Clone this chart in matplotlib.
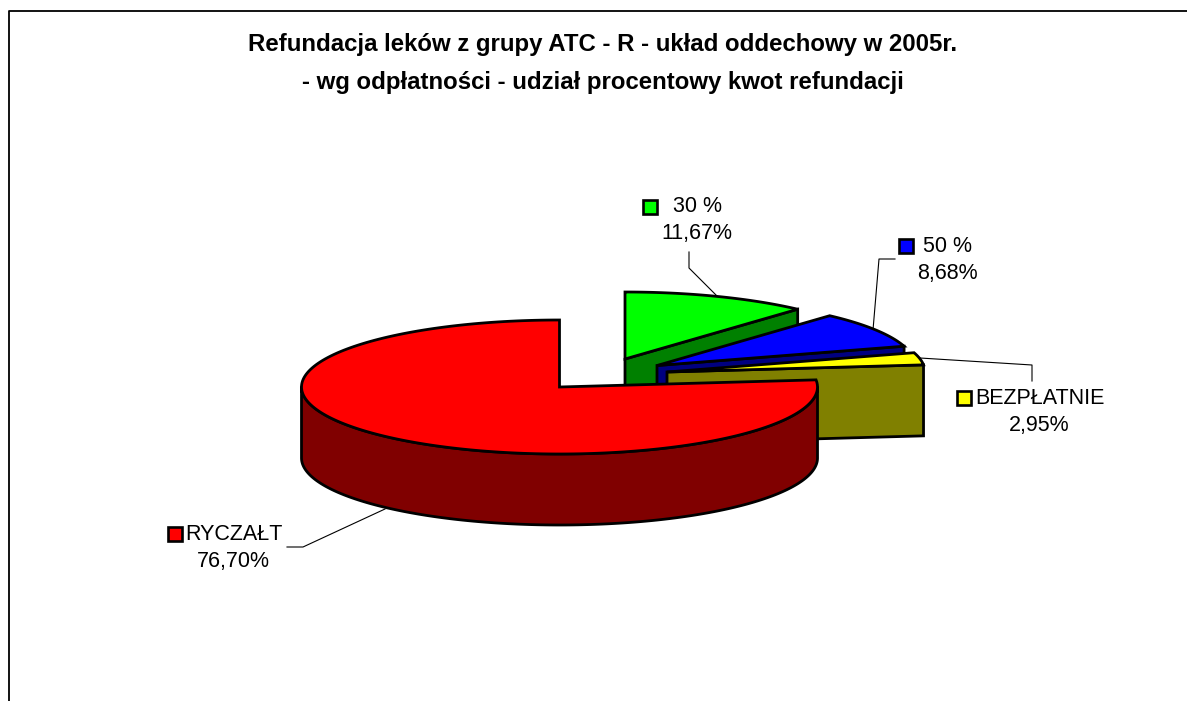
import numpy as np
import matplotlib
matplotlib.use("Agg")
import matplotlib.pyplot as plt
from matplotlib.patches import Polygon

plt.rcParams['font.family'] = ['Liberation Sans', 'DejaVu Sans']

title = "Refundacja leków z grupy ATC - R - układ oddechowy w 2005r.\n- wg odpłatności - udział procentowy kwot refundacji"
nazwy = ["RYCZAŁT", "BEZPŁATNIE", "50 %", "30 %"]
udzialy = [76.70, 2.95, 8.68, 11.67]
etykiety = ["76,70%", "2,95%", "8,68%", "11,67%"]

kolory = ["#ff0000", "#ffff00", "#0000ff", "#00ff00"]
ciemne = ["#800000", "#808000", "#000080", "#008000"]
# wierzcholki wycinkow w pikselach
srodki = [(559.5, 387), (667, 372), (657, 365.5), (625, 359)]
RX = 258
RY = 67
DEPTH = 71
LW = 2.0

fig = plt.figure(figsize=(11.87, 7.01), dpi=100)
ax = fig.add_axes([0, 0, 1, 1])
ax.set_xlim(0, 1187)
ax.set_ylim(701, 0)
ax.axis("off")

# ramka - bez prawej krawedzi
ax.plot([9, 9, 1187], [701, 10.5, 10.5], color="black", lw=1.3)

ax.text(603, 45, title.split("\n")[0], ha="center", va="center", fontsize=17.3, fontweight="bold")
ax.text(603, 83, title.split("\n")[1], ha="center", va="center", fontsize=17.3, fontweight="bold")


def rysuj_wycinek(i, a0, a1):
    cx, cy = srodki[i]
    t = np.radians(np.linspace(a0, a1, 200))
    x = cx + RX * np.cos(t)
    y = cy - RY * np.sin(t)
    z = 6
    # sciana ciecia (od strony a0)
    x0 = cx + RX * np.cos(t[0])
    y0 = cy - RY * np.sin(t[0])
    if i != 0:
        ax.add_patch(Polygon([(cx, cy), (x0, y0), (x0, y0 + DEPTH), (cx, cy + DEPTH)],
                             fc=ciemne[i], ec="black", lw=LW, joinstyle="miter", zorder=z))
    else:
        # sciana zewnetrzna, tylko przednia czesc elipsy
        tw = np.radians(np.linspace(180, 360, 200))
        xw = cx + RX * np.cos(tw)
        yw = cy - RY * np.sin(tw)
        pts = np.r_[np.c_[xw, yw], np.c_[xw[::-1], yw[::-1] + DEPTH]]
        ax.add_patch(Polygon(pts, fc=ciemne[i], ec="black", lw=LW, joinstyle="round", zorder=z))
    pts = np.r_[[(cx, cy)], np.c_[x, y]]
    ax.add_patch(Polygon(pts, fc=kolory[i], ec="black", lw=LW, joinstyle="miter", zorder=z))


# RYCZALT startuje na gorze (90 stopni), reszta dalej przeciwnie do zegara
katy = np.array(udzialy) / sum(udzialy) * 360
zakresy = []
a = 90.0
for n, k in enumerate(katy):
    zakresy.append((a, a + k))
    a += k
    if n == 0:
        a = a % 360

for i in [3, 2, 1, 0]:
    rysuj_wycinek(i, zakresy[i][0], zakresy[i][1])

# linie odniesienia
linie = [
    ([287, 303, 385], [547, 547, 509]),
    ([920, 1032, 1032], [358, 365, 381]),
    ([895, 879, 873], [259, 259, 330]),
    ([689, 689, 717], [252, 268, 296]),
]
for lx, ly in linie:
    ax.plot(lx, ly, color="black", lw=0.8, zorder=3)

# etykiety: znacznik, nazwa, wartosc
pozycje_nazw = [(185, 534), (975, 398.5), (923, 246.5), (673, 206.5)]
pozycje_wart = [(233, 561), (1039.5, 425.5), (947, 273.5), (697, 233.5)]
znaczniki = [(174.5, 533.5), (963.5, 398), (906, 246), (650, 207)]
for i in range(4):
    ax.text(pozycje_nazw[i][0], pozycje_nazw[i][1], nazwy[i], ha="left", va="center", fontsize=15.5, color="black")
    ax.text(pozycje_wart[i][0], pozycje_wart[i][1], etykiety[i], ha="center", va="center", fontsize=15.5, color="black")
    ax.plot(znaczniki[i][0], znaczniki[i][1], marker="s", ms=9.6, mfc=kolory[i], mec="black", mew=1.9, zorder=7)

fig.savefig("out.png", dpi=100, facecolor="white")
